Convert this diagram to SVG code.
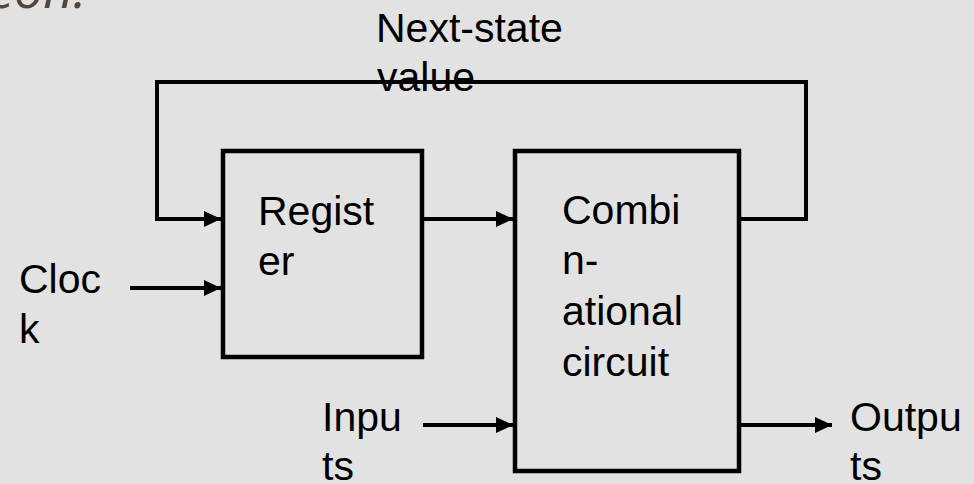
<svg xmlns="http://www.w3.org/2000/svg" width="974" height="484" viewBox="0 0 974 484">
<style>
.lbl{font-family:"Liberation Sans",Arial,sans-serif;font-size:41px;fill:#000}
.box{fill:none;stroke:#000;stroke-width:4.5}
.wire{fill:none;stroke:#000;stroke-width:4}
</style>
<defs>
<marker id="ah" markerUnits="userSpaceOnUse" viewBox="0 0 18 18" markerWidth="18" markerHeight="18" refX="17" refY="9" orient="auto" overflow="visible">
<path d="M0,1 L17,9 L0,17 Z" fill="#000"/>
</marker>
</defs>
<rect width="974" height="484" fill="#e2e2e2"/>
<text x="-12" y="8" font-family="'Open Sans',sans-serif" font-style="italic" font-size="52" fill="#54463a">eon:</text>
<g id="connectors">
<path class="wire" d="M739,219 H806 V82 H157 V219 H221" marker-end="url(#ah)"/>
<path class="wire" d="M422,219 H513" marker-end="url(#ah)"/>
<path class="wire" d="M130,288 H221" marker-end="url(#ah)"/>
<path class="wire" d="M423,425 H513" marker-end="url(#ah)"/>
<path class="wire" d="M741,425 H832" marker-end="url(#ah)"/>
</g>
<g id="register">
<rect class="box" x="223" y="151" width="199" height="206"/>
<text class="lbl" x="258" y="225">Regist</text>
<text class="lbl" x="258" y="275">er</text>
</g>
<g id="combinational">
<rect class="box" x="515" y="151" width="224" height="320"/>
<text class="lbl" x="562" y="224">Combi</text>
<text class="lbl" x="562" y="274">n-</text>
<text class="lbl" x="562" y="325">ational</text>
<text class="lbl" x="562" y="376">circuit</text>
</g>
<g id="next-state">
<text class="lbl" x="376" y="42">Next-state</text>
<text class="lbl" x="377" y="91">value</text>
</g>
<g id="clock">
<text class="lbl" x="19" y="293">Cloc</text>
<text class="lbl" x="19" y="343">k</text>
</g>
<g id="inputs">
<text class="lbl" x="322" y="431">Inpu</text>
<text class="lbl" x="322" y="480">ts</text>
</g>
<g id="outputs">
<text class="lbl" x="850" y="431">Outpu</text>
<text class="lbl" x="850" y="480">ts</text>
</g>
</svg>
